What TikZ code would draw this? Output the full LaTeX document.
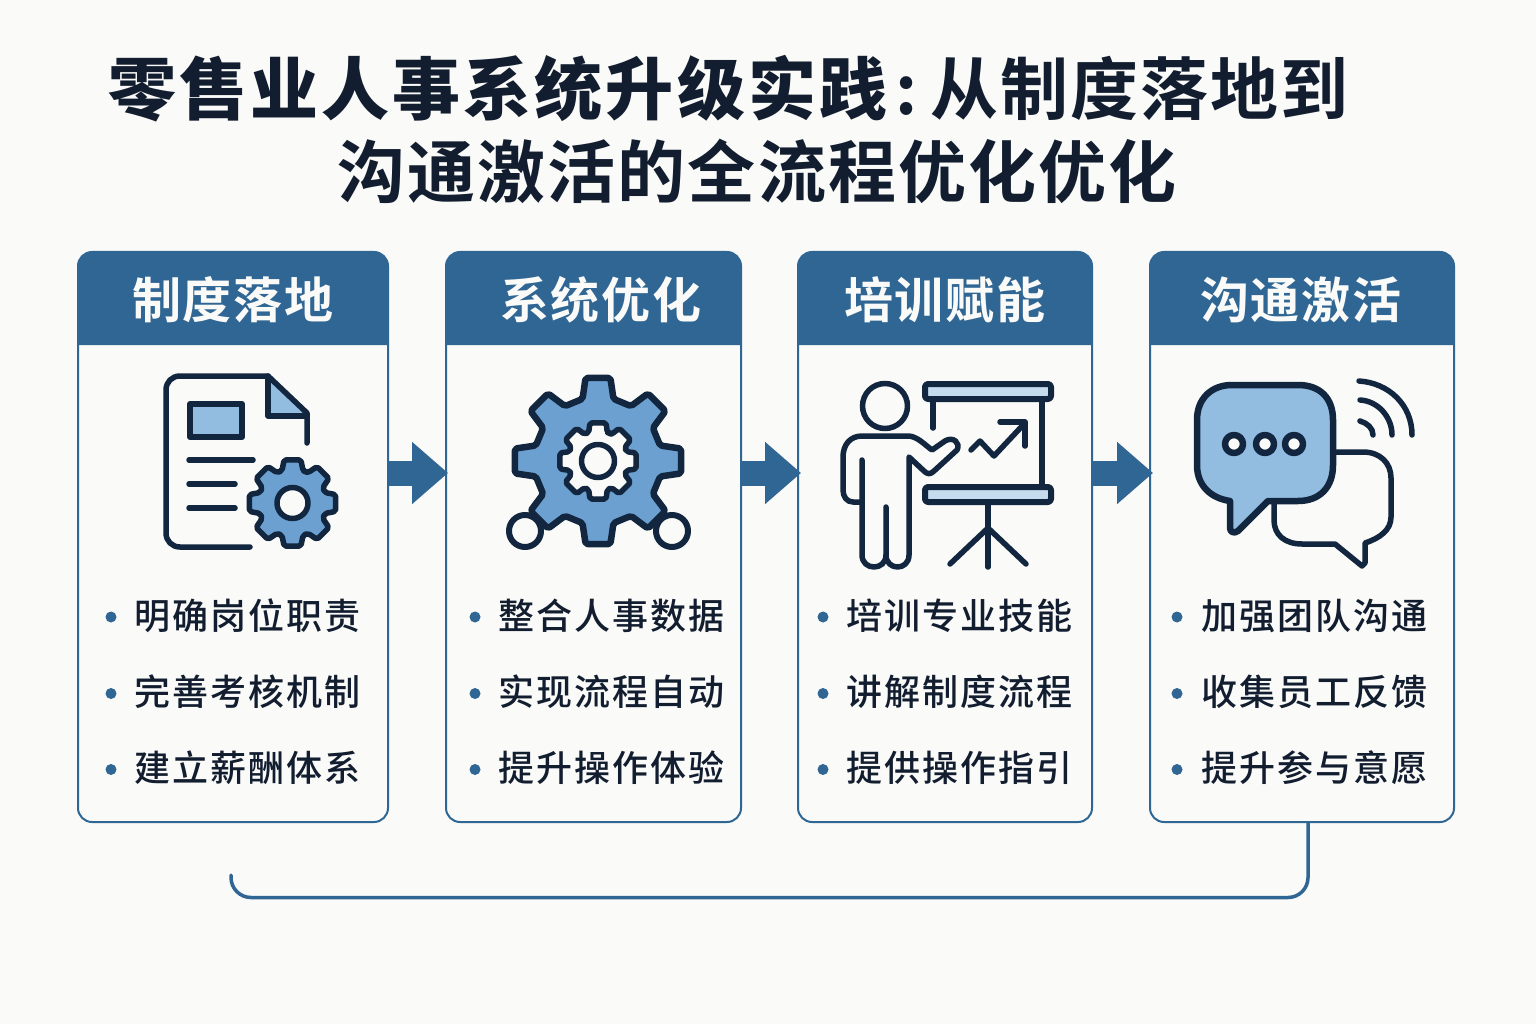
\documentclass[tikz,border=0pt]{standalone}
\usepackage{fontspec}
\usetikzlibrary{arrows.meta}
\newfontfamily\cjktitle[LetterSpace=3,BoldFont={Noto Sans CJK SC Bold}]{Noto Sans CJK SC}
\newfontfamily\cjktitlewide[LetterSpace=4.5]{Noto Sans CJK SC Bold}
\newfontfamily\cjkhead[LetterSpace=4]{Noto Sans CJK SC Bold}
\newfontfamily\cjkitem[LetterSpace=5.5]{Noto Sans CJK SC Medium}
\definecolor{bgc}{HTML}{FAFAF8}
\definecolor{hdr}{HTML}{2F6694}
\definecolor{ink}{HTML}{12263F}
\definecolor{gearblue}{HTML}{6BA0D0}
\definecolor{lightblue}{HTML}{92BDE0}
\definecolor{paleblue}{HTML}{C5DCEF}
\definecolor{txt}{HTML}{121E30}
\tikzset{
  cardbox/.style={draw=hdr,line width=2pt,rounded corners=14pt,minimum height=570pt,inner sep=0pt,fill=none},
  headtext/.style={text=bgc,inner sep=0pt,font=\cjkhead\fontsize{49}{49}\selectfont},
  itemtext/.style={text=txt,inner sep=0pt,anchor=west,font=\cjkitem\fontsize{36}{36}\selectfont},
  dotb/.style={circle,fill=hdr,inner sep=0pt,minimum size=11pt},
  titletext/.style={text=txt,inner sep=0pt,font=\cjktitle\bfseries\fontsize{68}{68}\selectfont},
  icon/.style={draw=ink,line width=5.5pt,line cap=round,line join=round},
  flowarrow/.style={draw=hdr,line width=25pt,-{Triangle[length=36pt,width=60pt,fill=hdr]}},
  backline/.style={draw=hdr,line width=3.5pt,rounded corners=20pt,line cap=round}
}
% gear: centre x, y, tip radius, root radius, tip half-angle, root half-angle
\newcommand{\gearicon}[7][]{%
  \draw[icon,rounded corners=2pt,#1] ({#2+#5*cos(22.5-#7)*cos(67.5)},{#3-#5*cos(22.5-#7)*sin(67.5)})
    foreach \ga in {0,45,...,315}{
      -- ({#2+#5*cos(\ga+90-#7)},{#3-#5*sin(\ga+90-#7)})
      -- ({#2+#4*cos(\ga+90-#6)},{#3-#4*sin(\ga+90-#6)})
      -- ({#2+#4*cos(\ga+90+#6)},{#3-#4*sin(\ga+90+#6)})
      -- ({#2+#5*cos(\ga+90+#7)},{#3-#5*sin(\ga+90+#7)})
    } -- cycle;}
\begin{document}
\begin{tikzpicture}[x=1pt,y=-1pt]
\useasboundingbox (0,0) rectangle (1536,1024);
\fill[bgc] (0,0) rectangle (1536,1024);
% title
\node[titletext] (t1) at (728.5,89) {{\cjktitlewide\fontsize{68}{68}\selectfont 零售业人事系统升级实践}\hspace{8pt}:\hspace{13pt}从制度落地到};
\node[titletext] (t2) at (757,171) {沟通激活的全流程优化优化};
% header bands
\foreach \l/\r in {78/388,446/741,798/1092,1150/1454}{
  \fill[hdr] (\l,345) [rounded corners=14pt] -- (\l,252) -- (\r,252) [sharp corners] -- (\r,345) -- cycle;
}
% cards
\node[cardbox,minimum width=310pt] (c1) at (233,537) {};
\node[cardbox,minimum width=295pt] (c2) at (593.5,537) {};
\node[cardbox,minimum width=294pt] (c3) at (945,537) {};
\node[cardbox,minimum width=304pt] (c4) at (1302,537) {};
\node[headtext] (h1) at (233,300) {制度落地};
\node[headtext] (h2) at (601,300) {系统优化};
\node[headtext] (h3) at (945,300) {培训赋能};
\node[headtext] (h4) at (1301,300) {沟通激活};
% arrows
\coordinate (ay) at (0,473);
\coordinate (tip1) at (448,473);
\coordinate (tip2) at (801,473);
\coordinate (tip3) at (1153,473);
\draw[flowarrow] (c1.east|-ay) -- (tip1);
\draw[flowarrow] (c2.east|-ay) -- (tip2);
\draw[flowarrow] (c3.east|-ay) -- (tip3);
% return line
\coordinate (backstart) at (1308,822);
\coordinate (backend) at (231,875);
\draw[backline] (c4.south-|backstart) -- (1308,897.5) -- (231,897.5) -- (backend);
% bullet lists
\foreach \c/\bx/\tx/\a/\b/\d in {
 1/111/134/明确岗位职责/完善考核机制/建立薪酬体系,
 2/475/498/整合人事数据/实现流程自动/提升操作体验,
 3/823/846/培训专业技能/讲解制度流程/提供操作指引,
 4/1177/1201/加强团队沟通/收集员工反馈/提升参与意愿}{
  \node[dotb] (b\c a) at (\bx,617) {};
  \node[dotb] (b\c b) at (\bx,693.5) {};
  \node[dotb] (b\c c) at (\bx,769.5) {};
  \node[itemtext] (i\c a) at (\tx,616) {\a};
  \node[itemtext] (i\c b) at (\tx,692) {\b};
  \node[itemtext] (i\c c) at (\tx,768) {\d};
}
% icon 1: document and gear
\fill[lightblue] (268,378) -- (305,414) -- (268,414) -- cycle;
\draw[icon] (250,547) -- (180,547) .. controls (172,547) and (166,541) .. (166,533) -- (166,390) .. controls (166,382) and (172,376) .. (180,376) -- (268,376) -- (307,413) -- (307,443);
\draw[icon] (268,376) -- (268,416) -- (307,416);
\draw[icon,fill=lightblue,line width=6pt] (190,404) rectangle (242,437);
\draw[icon] (189,460) -- (253,460);
\draw[icon] (189,484) -- (235,484);
\draw[icon] (189,508) -- (235,508);
\gearicon[fill=gearblue]{292.5}{503}{44}{34}{11}{18}
\draw[icon,fill=bgc] (292.5,503) circle (15.5);
% icon 2: network gear
\gearicon[fill=gearblue,line width=6.5pt]{598}{461}{84}{64}{8.5}{14}
\gearicon[fill=bgc]{598}{461}{39}{30}{12}{18}
\draw[icon,fill=bgc] (598,461) circle (16.5);
\draw[icon,fill=bgc,line width=6pt] (525,531) circle (16);
\draw[icon,fill=bgc,line width=6pt] (672,531) circle (16);
% icon 3: presenter
\draw[icon] (885,406) circle (22.5);
\draw[icon] (862,502) -- (853,502) .. controls (847,502) and (843,497) .. (843,490) -- (843,457) .. controls (843,445) and (850,436) .. (862,436) -- (908,436) .. controls (917,436) and (925,445) .. (932,450) -- (945,441) .. controls (953,436) and (961,443) .. (957,450) -- (934,471) .. controls (930,475) and (927,474) .. (924,471) -- (909,457) -- (909,555) .. controls (909,571) and (886,571) .. (886,555) -- (886,507);
\draw[icon] (862,460) -- (862,555) .. controls (862,571) and (886,571) .. (886,555);
\draw[icon,fill=paleblue,line width=6pt,rounded corners=3pt] (925,384) rectangle (1051,399);
\draw[icon,fill=paleblue,line width=6pt,rounded corners=3pt] (925,487) rectangle (1051,502);
\draw[icon] (933,402) -- (933,428);
\draw[icon] (1042,402) -- (1042,485);
\draw[icon] (988,505) -- (988,567);
\draw[icon] (950,564) -- (988,528) -- (1026,564);
\draw[icon] (971,450) -- (980,441) -- (994,456) -- (1024,424);
\draw[icon] (1000,422) -- (1025,422) -- (1025,446);
% icon 4: speech bubbles
\draw[icon] (1333,452) -- (1363,452) .. controls (1380,452) and (1391,463) .. (1391,478) -- (1391,517) .. controls (1391,530) and (1380,538) .. (1365,543) -- (1365,563) -- (1362,566) -- (1335,544) -- (1302,544) .. controls (1285,544) and (1274,535) .. (1274,520) -- (1274,503);
\draw[icon,fill=lightblue,line width=6.5pt] (1230,501) .. controls (1210,498) and (1197,485) .. (1197,465) -- (1197,420) .. controls (1197,398) and (1212,385) .. (1232,385) -- (1298,385) .. controls (1320,385) and (1333,398) .. (1333,420) -- (1333,465) .. controls (1333,487) and (1320,501) .. (1298,501) -- (1268,501) -- (1238,531) .. controls (1234,534) and (1230,532) .. (1230,528) -- cycle;
\foreach \dx in {1234,1265,1294}{\draw[icon,fill=bgc,line width=6.5pt] (\dx,444) circle (9);}
\draw[icon] (1359,381) .. controls (1389,383) and (1412,405) .. (1412,435);
\draw[icon] (1360,400) .. controls (1378,401) and (1392,417) .. (1392,435);
\draw[icon] (1360,421) .. controls (1367,423) and (1373,428) .. (1373,435);
\end{tikzpicture}
\end{document}
